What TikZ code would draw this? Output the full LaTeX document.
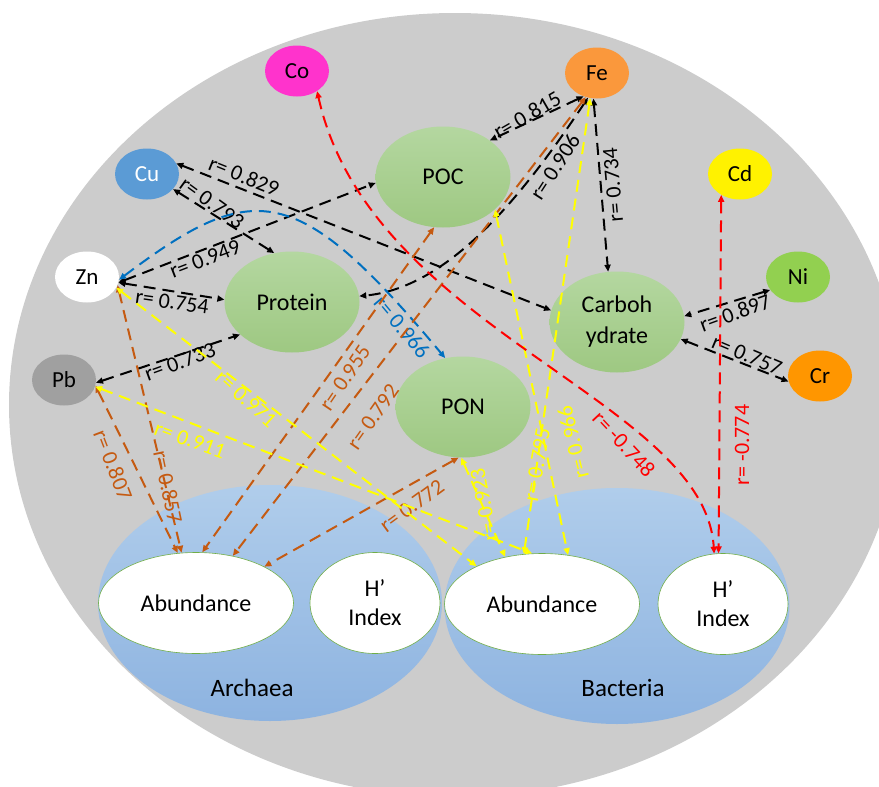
\documentclass[tikz,border=0pt]{standalone}
\usepackage{fontspec}
\setmainfont{Carlito}
\usetikzlibrary{arrows.meta,shapes.geometric}
\definecolor{bggray}{RGB}{204,204,204}
\definecolor{omtop}{RGB}{180,215,160}
\definecolor{ombot}{RGB}{158,200,130}
\definecolor{grptop}{RGB}{176,205,235}
\definecolor{grpbot}{RGB}{141,179,224}
\definecolor{rimgreen}{RGB}{112,173,71}
\definecolor{cucol}{RGB}{91,155,213}
\definecolor{fecol}{RGB}{250,152,60}
\definecolor{crcol}{RGB}{255,150,0}
\definecolor{cocol}{RGB}{255,51,204}
\definecolor{nicol}{RGB}{146,208,80}
\definecolor{pbcol}{RGB}{160,160,160}
\definecolor{linkorange}{RGB}{197,90,17}
\definecolor{linkblue}{RGB}{0,112,192}
\definecolor{linkyellow}{RGB}{255,255,0}

\begin{document}
\begin{tikzpicture}[x=1pt,y=-1pt,
  metal/.style={ellipse,inner sep=0pt,minimum width=64pt,minimum height=51pt,font=\fontsize{23}{25}\selectfont},
  matter/.style={ellipse,inner sep=0pt,minimum width=135pt,minimum height=101pt,top color=omtop,bottom color=ombot,font=\fontsize{24}{31}\selectfont,align=center},
  group/.style={ellipse,inner sep=0pt,minimum width=344pt,minimum height=236pt,top color=grptop,bottom color=grpbot},
  index/.style={ellipse,inner sep=0pt,fill=white,draw=rimgreen,line width=0.6pt,minimum height=101pt,font=\fontsize{24}{29}\selectfont,align=center},
  link/.style={line width=2pt,dash pattern=on 12pt off 7pt,>={Triangle[length=7pt,width=6pt]},<->},
  rval/.style={font=\fontsize{22}{24}\selectfont,inner sep=0pt}]
  \useasboundingbox (0,0) rectangle (879,787);
  \clip (0,0) rectangle (879,787);
  \fill[bggray] (455,405) ellipse [x radius=446pt, y radius=392pt];

  % microbes
  \node[group] (arch) at (270,603) {};
  \node[group,minimum width=345pt] (bact) at (617,606) {};
  \node[index,minimum width=195pt] (archab) at (196,603) {Abundance};
  \node[index,minimum width=130pt] (archh) at (375,603) {H’\\Index};
  \node[index,minimum width=195pt] (bactab) at (542,604) {Abundance};
  \node[index,minimum width=130pt] (bacth) at (723,604) {H’\\Index};
  \node[font=\fontsize{25}{27}\selectfont] (archlbl) at (252,688) {Archaea};
  \node[font=\fontsize{25}{27}\selectfont] (bactlbl) at (623,688) {Bacteria};

  % organic matter
  \node[matter] (poc) at (443,177) {POC};
  \node[matter] (prot) at (292,302) {Protein};
  \node[matter] (carb) at (617,322) {Carboh\\ydrate};
  \node[matter] (pon) at (463,407) {PON};

  % metals
  \node[metal,fill=cocol] (co) at (297,71) {Co};
  \node[metal,fill=fecol] (fe) at (597,73) {Fe};
  \node[metal,fill=cucol,text=white] (cu) at (147,174) {Cu};
  \node[metal,fill=white] (zn) at (87,277) {Zn};
  \node[metal,fill=pbcol] (pb) at (64,380) {Pb};
  \node[metal,fill=yellow] (cd) at (740,174) {Cd};
  \node[metal,fill=nicol] (ni) at (798,277) {Ni};
  \node[metal,fill=crcol] (cr) at (820,376) {Cr};

  % black links
  \draw[link] (cu.20) -- (carb.170);
  \draw[link] (cu.-30) -- (prot.110);
  \draw[link] (zn.-10) -- (poc.185);
  \draw[link] (zn.-10) -- (prot.178);
  \draw[link] (pb.-5) -- (prot.212);
  \draw[link] (fe.240) -- (poc.38);
  \draw[link] (fe.262) -- (carb.100);
  \draw[link] (fe.250) .. controls (520,200) and (447,288) .. (prot.5);
  \draw[link] (ni.205) -- (carb.5);
  \draw[link] (carb.-15) -- (cr.190);
  \node[rval,rotate=-22] (r829) at (244,176) {r= 0.829};
  \node[rval,rotate=-36] (r793) at (212,203) {r= 0.793};
  \node[rval,rotate=21] (r949) at (205,259) {r= 0.949};
  \node[rval,rotate=-8] (r754) at (172,302) {r= 0.754};
  \node[rval,rotate=20] (r733) at (180,362) {r= 0.733};
  \node[rval,rotate=30] (r815) at (527,115) {r= 0.815};
  \node[rval,rotate=95] (r734) at (613,185) {r= 0.734};
  \node[rval,rotate=57] (r906) at (555,167) {r= 0.906};
  \node[rval,rotate=20] (r897) at (735,313) {r= 0.897};
  \node[rval,rotate=-23] (r757) at (747,355) {r= 0.757};

  % blue link
  \draw[link,linkblue] (zn.-5) .. controls (254,178) and (297,181) .. (pon.110);
  \node[rval,text=linkblue,rotate=-50] (r966b) at (402,327) {r= 0.966};

  % orange links
  \draw[link,linkorange] (zn.-15) -- (archab.106);
  \draw[link,linkorange] (pb.-10) -- (archab.110);
  \draw[link,linkorange] (poc.260) -- (archab.83);
  \draw[link,linkorange] (fe.245) -- (archab.52);
  \draw[link,linkorange] (pon.265) -- (archab.28);
  \node[rval,text=linkorange,rotate=-78] (r857) at (168,487) {r= 0.857};
  \node[rval,text=linkorange,rotate=-69] (r807) at (113,465) {r= 0.807};
  \node[rval,text=linkorange,rotate=56] (r955) at (345,378) {r= 0.955};
  \node[rval,text=linkorange,rotate=55] (r792) at (373,417) {r= 0.792};
  \node[rval,text=linkorange,rotate=36] (r772) at (412,506) {r= 0.772};

  % yellow links
  \draw[link,linkyellow] (zn.-20) -- (bactab.150);
  \draw[link,linkyellow] (pb.-12) -- (bactab.101);
  \draw[link,linkyellow] (pon.268) -- (bactab.128);
  \draw[link,linkyellow] (fe.255) -- (bactab.110);
  \draw[link,linkyellow] (poc.-32) -- (bactab.62);
  \node[rval,text=linkyellow,rotate=-42] (r971) at (246,399) {r= 0.971};
  \node[rval,text=linkyellow,rotate=-20] (r911) at (190,440) {r= 0.911};
  \node[rval,text=linkyellow,rotate=101] (r923) at (484,505) {r= 0.923};
  \node[rval,text=linkyellow,rotate=80] (r795) at (537,465) {r= 0.795};
  \node[rval,text=linkyellow,rotate=104] (r966y) at (573,442) {r= 0.966};

  % red links
  \draw[link,red] (co.-45) .. controls (370,330) and (705,400) .. (bacth.100);
  \draw[link,red] (cd.228) -- (bacth.95);
  \node[rval,text=red,rotate=-47] (r748) at (624,444) {r= -0.748};
  \node[rval,text=red,rotate=90] (r774) at (742,445) {r= -0.774};
\end{tikzpicture}
\end{document}
